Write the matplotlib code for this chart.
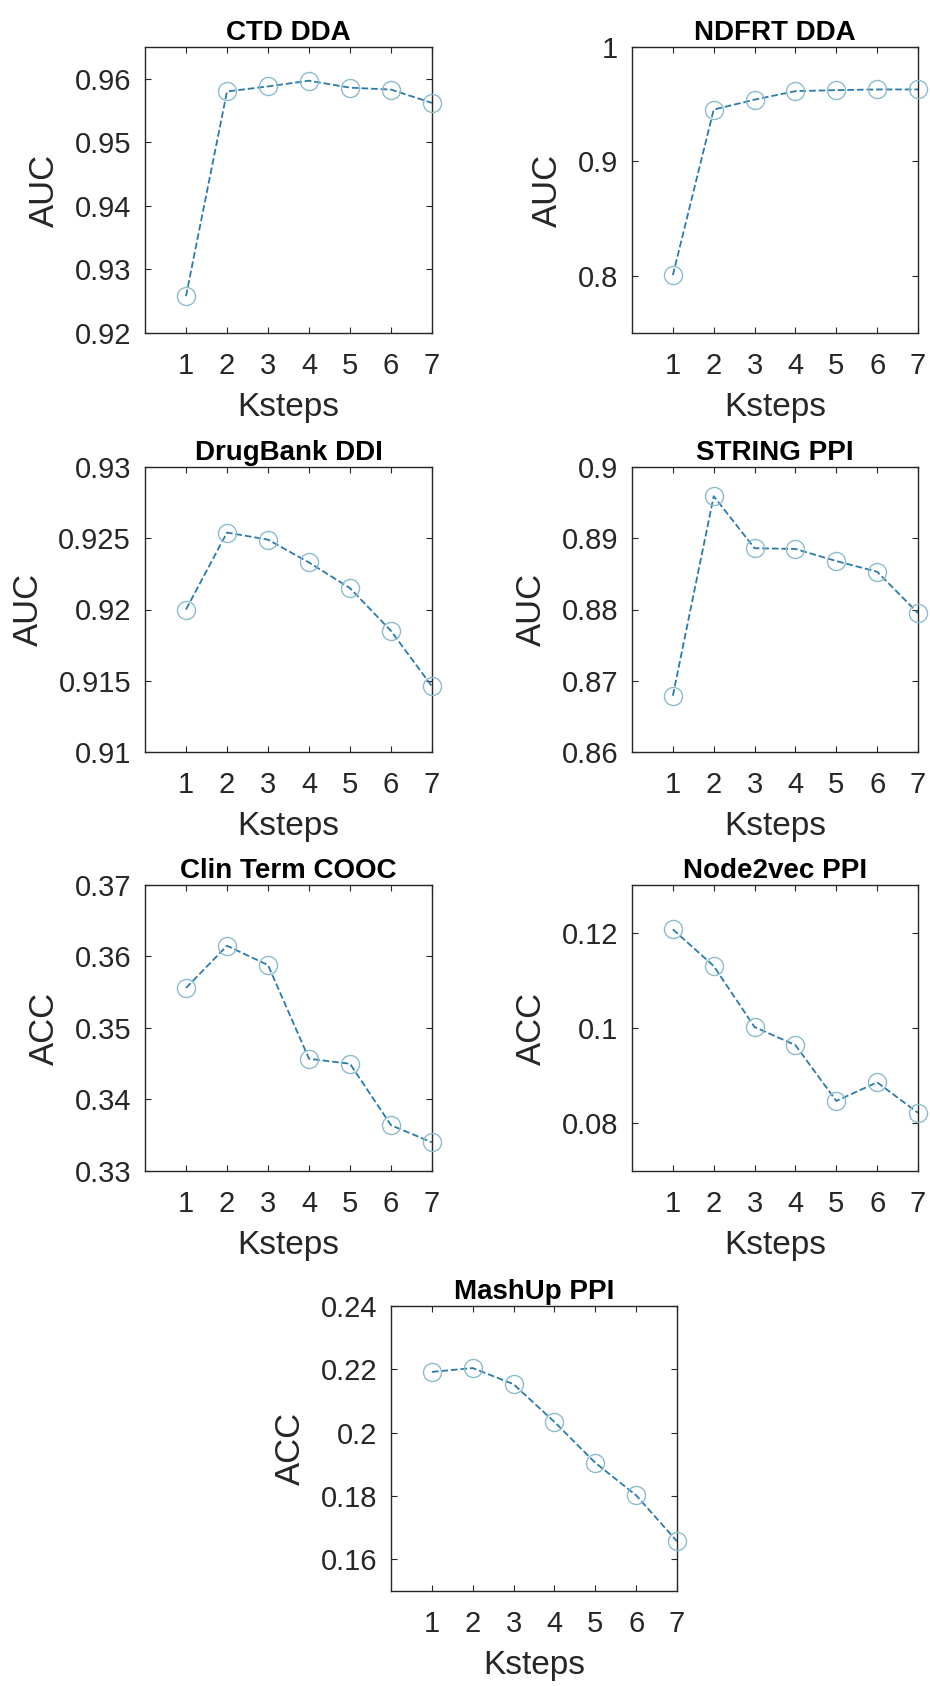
import matplotlib
matplotlib.use('Agg')
import matplotlib.pyplot as plt

plt.rcParams['font.family'] = ['Liberation Sans', 'DejaVu Sans']

# data
ksteps = [1, 2, 3, 4, 5, 6, 7]

titles = ['CTD DDA', 'NDFRT DDA', 'DrugBank DDI', 'STRING PPI',
          'Clin Term COOC', 'Node2vec PPI', 'MashUp PPI']
ylabels = ['AUC', 'AUC', 'AUC', 'AUC', 'ACC', 'ACC', 'ACC']

ctd_dda = [0.9258, 0.9580, 0.9588, 0.9597, 0.9586, 0.9583, 0.9562]
ndfrt_dda = [0.8006, 0.9453, 0.9540, 0.9614, 0.9623, 0.9629, 0.9629]
drugbank_ddi = [0.9200, 0.9254, 0.9249, 0.9233, 0.9215, 0.9185, 0.9146]
string_ppi = [0.8679, 0.8959, 0.8886, 0.8885, 0.8868, 0.8853, 0.8795]
clin_cooc = [0.3556, 0.3615, 0.3588, 0.3457, 0.3450, 0.3364, 0.3340]
node2vec_ppi = [0.1207, 0.1130, 0.1002, 0.0964, 0.0847, 0.0886, 0.0822]
mashup_ppi = [0.2192, 0.2204, 0.2153, 0.2034, 0.1905, 0.1802, 0.1657]

series = [ctd_dda, ndfrt_dda, drugbank_ddi, string_ppi,
          clin_cooc, node2vec_ppi, mashup_ppi]

ylims = [(0.92, 0.965), (0.75, 1.0), (0.91, 0.93), (0.86, 0.90),
         (0.33, 0.37), (0.07, 0.13), (0.15, 0.24)]
yticks = [[0.92, 0.93, 0.94, 0.95, 0.96],
          [0.8, 0.9, 1.0],
          [0.91, 0.915, 0.92, 0.925, 0.93],
          [0.86, 0.87, 0.88, 0.89, 0.9],
          [0.33, 0.34, 0.35, 0.36, 0.37],
          [0.08, 0.1, 0.12],
          [0.16, 0.18, 0.2, 0.22, 0.24]]
yticklabels = [['0.92', '0.93', '0.94', '0.95', '0.96'],
               ['0.8', '0.9', '1'],
               ['0.91', '0.915', '0.92', '0.925', '0.93'],
               ['0.86', '0.87', '0.88', '0.89', '0.9'],
               ['0.33', '0.34', '0.35', '0.36', '0.37'],
               ['0.08', '0.1', '0.12'],
               ['0.16', '0.18', '0.2', '0.22', '0.24']]

# axes boxes in pixels: left, top, width, height
W, H = 930, 1686
boxes = [(145, 47, 287, 286), (632, 47, 286, 286),
         (145, 467, 287, 285), (632, 467, 286, 285),
         (145, 885, 287, 286), (632, 885, 286, 286),
         (391, 1306, 286, 285)]

fig = plt.figure(figsize=(W / 100, H / 100), dpi=100)

dark = '#262626'
for i in range(7):
    l, t, w, h = boxes[i]
    ax = fig.add_axes([l / W, 1 - (t + h) / H, w / W, h / H])
    ax.plot(ksteps, series[i], '--', color='#2a7bab', lw=1.3, zorder=2)
    ax.plot(ksteps, series[i], 'o', ms=13, mfc='none', mec='#8cbccc',
            mew=1.0, zorder=3, clip_on=False)
    ax.set_xlim(0, 7)
    ax.set_ylim(*ylims[i])
    ax.set_xticks(ksteps)
    ax.set_yticks(yticks[i])
    ax.set_yticklabels(yticklabels[i])
    ax.tick_params(direction='in', top=True, right=True, length=4,
                   width=0.8, colors=dark, labelsize=21)
    ax.tick_params(axis='x', pad=14)
    ax.tick_params(axis='y', pad=10)
    for s in ax.spines.values():
        s.set_color(dark)
        s.set_linewidth(1.0)
    ax.set_title(titles[i], fontsize=20, fontweight='bold', pad=5)
    ax.set_xlabel('Ksteps', fontsize=24, color=dark, labelpad=8)
    ax.set_ylabel(ylabels[i], fontsize=25, color=dark, labelpad=10)

fig.savefig('out.png', dpi=100)
